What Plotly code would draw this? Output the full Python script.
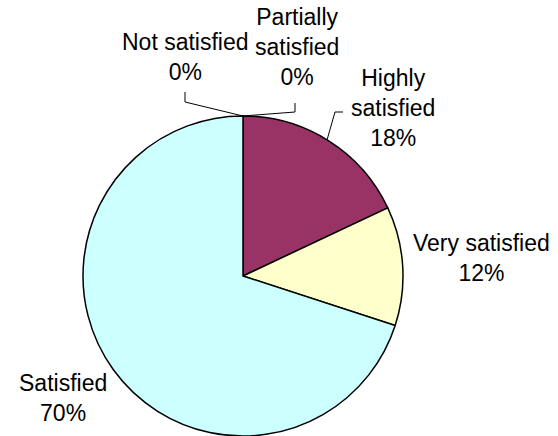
import plotly.graph_objects as go

# Data
labels = ["Not satisfied", "Partially satisfied", "Highly satisfied", "Very satisfied", "Satisfied"]
values = [0, 0, 18, 12, 70]
label_text = ["Not satisfied", "Partially<br>satisfied", "Highly<br>satisfied", "Very satisfied", "Satisfied"]
colors = ["#FFFFFF", "#FFFFFF", "#993366", "#FFFFCC", "#CCFFFF"]

W, H = 558, 436

def px(x, y):
    return x / W, 1 - y / H

fig = go.Figure(go.Pie(
    labels=labels, values=values, sort=False, direction="clockwise", rotation=0,
    marker=dict(colors=colors, line=dict(color="black", width=1.5)),
    textinfo="none", hoverinfo="label+percent", showlegend=False,
    domain=dict(x=[(243 - 161) / W, (243 + 161) / W], y=[0, 1 - 116 / H]),
))

label_pos = [(185, 57), (297, 47), (393, 108), (481, 258), (63, 398)]
total = sum(values)
annotations = []
for txt, v, (x, y) in zip(label_text, values, label_pos):
    ax, ay = px(x, y)
    annotations.append(dict(
        text=f"{txt}<br>{round(100 * v / total)}%", x=ax, y=ay, xref="paper", yref="paper",
        showarrow=False, xanchor="center", yanchor="middle", align="center",
        font=dict(family="Liberation Sans, Arial, sans-serif", size=23, color="black"),
    ))

leaders = [
    [(243, 116), (185, 102), (185, 92)],
    [(243, 116), (295, 112), (295, 103)],
    [(327, 140), (335, 112), (343, 112)],
]
shapes = []
for pts in leaders:
    path = ""
    for i, (x, y) in enumerate(pts):
        a, b = px(x, y)
        path += ("M" if i == 0 else "L") + f"{a},{b} "
    shapes.append(dict(type="path", path=path.strip(), xref="paper", yref="paper",
                       line=dict(color="black", width=1)))

fig.update_layout(
    width=W, height=H, margin=dict(l=0, r=0, t=0, b=0),
    paper_bgcolor="white", plot_bgcolor="white",
    annotations=annotations, shapes=shapes,
)
fig.write_html("out.html", config={"displayModeBar": False},
               post_script="document.body.style.margin='0';")
